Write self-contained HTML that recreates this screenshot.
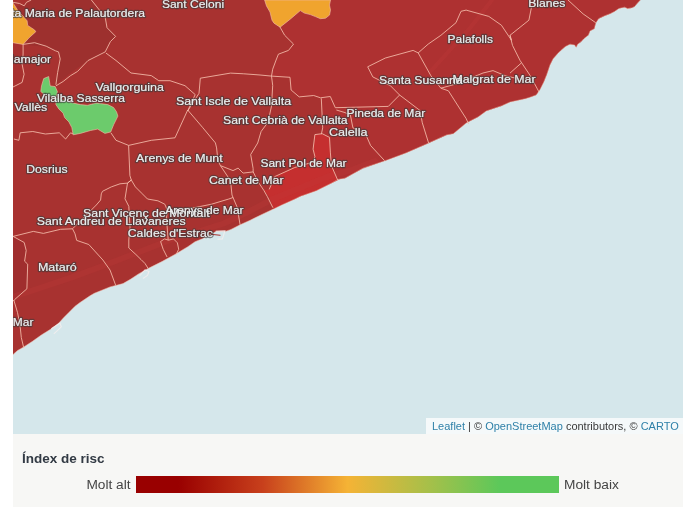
<!DOCTYPE html>
<html><head><meta charset="utf-8"><style>
html,body{margin:0;padding:0;background:#fff;width:694px;height:520px;overflow:hidden;position:relative}
.lb{font-family:"Liberation Sans",sans-serif;font-size:11.4px;fill:#e8e8e8;stroke:#3c3c3c;stroke-opacity:0.6;stroke-width:2.4px;stroke-linejoin:round}
.lf{font-family:"Liberation Sans",sans-serif;font-size:11.4px;fill:#ebebeb;stroke:#e8e8e8;stroke-width:0.1px;stroke-linejoin:round}
#attr{will-change:transform;position:absolute;left:425.5px;top:417.5px;width:257.5px;height:16.5px;background:rgba(255,255,255,0.75);font-family:"Liberation Sans",sans-serif;font-size:11px;color:#3a3a3a;line-height:17px;box-sizing:border-box;padding-left:6px;white-space:nowrap}
#attr a{color:#2f80a8;text-decoration:none}
#legend{will-change:transform;position:absolute;left:13px;top:434px;width:670px;height:73px;background:#f7f7f5;font-family:"Liberation Sans",sans-serif}
#lt{position:absolute;left:9px;top:16.5px;font-weight:bold;font-size:13.5px;color:#323a44}
#la{position:absolute;right:552.5px;top:43px;font-size:13.7px;color:#444}
#lbx{position:absolute;left:551px;top:43px;font-size:13.7px;color:#444}
#bar{position:absolute;left:123px;top:42px;width:423px;height:16.5px;background:linear-gradient(to right,#990000 0%,#990000 10%,#c8401c 30%,#f5b335 50%,#a3c04a 70%,#5cc85a 86%,#5cc85a 100%)}
</style></head><body>
<svg width="694" height="520" viewBox="0 0 694 520" style="position:absolute;left:0;top:0;will-change:transform">
<defs><clipPath id="c"><rect x="13" y="0" width="670" height="434"/></clipPath></defs>
<g clip-path="url(#c)">
<rect x="13" y="0" width="670" height="434" fill="#d5e7eb"/>
<polygon points="0.0,0.0 640.4,0.0 637.6,2.9 634.7,6.5 631.8,7.9 627.5,8.6 624.6,7.2 618.8,8.6 614.5,11.5 610.2,13.7 604.4,15.9 598.6,18.7 595.8,23.1 594.3,28.8 590.0,31.0 588.5,35.0 583.8,38.8 580.8,41.9 577.7,44.2 576.2,47.3 574.6,45.0 570.0,44.2 565.4,46.5 560.8,50.4 557.7,53.5 553.1,58.8 550.0,65.0 546.9,74.2 543.8,81.9 540.0,89.6 536.2,95.0 530.0,97.3 525.1,98.8 510.0,102.1 501.4,105.9 486.2,111.0 478.0,117.0 466.2,123.0 453.2,133.8 446.7,134.9 426.1,144.2 405.9,153.0 385.7,160.6 363.0,168.2 345.0,178.2 337.8,179.5 331.4,183.2 316.2,190.8 300.0,196.5 295.0,199.0 281.5,205.1 273.4,209.1 260.3,215.2 250.2,220.2 240.1,224.8 231.0,229.4 226.0,231.2 216.6,231.2 213.0,233.0 202.2,238.8 195.0,241.7 187.8,246.7 174.8,254.5 161.9,261.6 148.9,268.1 138.5,273.9 130.8,279.1 123.0,283.6 110.0,286.9 94.3,293.3 90.0,295.8 80.0,302.5 75.0,306.3 68.8,312.5 63.8,317.5 58.8,323.1 51.3,328.8 41.3,335.0 32.5,341.3 23.8,346.9 17.5,350.6 13.1,354.4 12.0,355.5 0.0,360.0" fill="#a83230"/>
<polygon points="330.5,0.0 640.4,0.0 637.6,2.9 634.7,6.5 631.8,7.9 627.5,8.6 624.6,7.2 618.8,8.6 614.5,11.5 610.2,13.7 604.4,15.9 598.6,18.7 595.8,23.1 594.3,28.8 590.0,31.0 588.5,35.0 583.8,38.8 580.8,41.9 577.7,44.2 576.2,47.3 574.6,45.0 570.0,44.2 565.4,46.5 560.8,50.4 557.7,53.5 553.1,58.8 550.0,65.0 546.9,74.2 543.8,81.9 540.0,89.6 536.2,95.0 530.0,97.3 525.1,98.8 510.0,102.1 501.4,105.9 486.2,111.0 478.0,117.0 466.2,123.0 453.2,133.8 446.7,134.9 426.1,144.2 405.9,153.0 385.7,160.6 363.0,168.2 345.0,178.2 337.8,179.5 331.4,165.7 330.4,152.9 329.5,137.4 322.2,133.7 322.7,127.8 320.5,97.8 313.7,95.5 299.2,96.9 291.1,90.0 290.0,77.3 271.5,76.1 272.7,69.2 276.1,60.0 278.4,54.2 288.5,50.4 293.5,44.1 284.7,35.3 279.7,26.5 290.2,19.2 300.3,10.6 304.3,13.1 310.3,14.6 315.4,16.6 320.4,18.7 325.5,18.2 329.5,15.1 330.5,10.1 329.5,5.0" fill="#ae3131"/>
<polygon points="30.8,0.0 91.4,0.0 105.2,17.3 107.0,27.7 115.6,36.4 110.4,41.6 105.2,51.9 87.9,60.6 70.6,72.7 55.9,84.8 57.6,72.7 60.2,58.9 58.5,51.9 44.6,46.8 23.1,44.4 28.8,38.1 35.8,31.7 34.6,30.0 27.7,25.4 27.1,20.8 23.1,16.2 18.5,11.5 15.6,6.9 24.7,3.5" fill="#9d302e"/>
<polygon points="13.0,236.4 24.2,242.5 26.2,250.5 24.6,261.2 27.7,264.2 26.9,288.8 14.6,299.6 13.0,301.2" fill="#a02e2e"/>
<polygon points="314.9,134.6 322.2,133.7 329.5,137.4 330.4,152.9 331.4,165.7 337.8,180.3 331.4,183.2 316.2,190.8 300.0,196.5 295.0,199.0 281.5,205.1 273.4,209.1 269.2,196.7 263.8,190.3 269.2,189.4 274.7,176.6 294.8,167.5 313.1,162.0 314.9,156.5 313.1,149.2" fill="#c52f2f"/>
<polygon points="13.0,2.9 15.6,6.9 18.5,11.5 23.1,16.2 27.1,20.8 27.7,25.4 34.6,30.0 35.8,31.7 28.8,38.1 23.1,44.4 13.0,42.7 0.0,42.7 0.0,2.9" fill="#f0a42e" stroke="#f4bcaa" stroke-opacity="0.6" stroke-width="1"/>
<polygon points="264.6,0.0 266.5,6.0 270.0,12.1 272.0,20.2 274.0,23.2 280.1,27.2 290.2,19.2 300.3,10.6 304.3,13.1 310.3,14.6 315.4,16.6 320.4,18.7 325.5,18.2 329.5,15.1 330.5,10.1 329.5,5.0 330.5,0.0" fill="#f0a42e" stroke="#f4bcaa" stroke-opacity="0.6" stroke-width="1"/>
<polygon points="48.7,76.5 50.2,85.9 55.2,86.6 57.4,91.6 55.9,98.8 55.9,104.6 58.8,108.9 63.1,113.2 64.6,117.6 68.9,121.9 71.8,127.6 73.2,134.8 80.4,133.4 90.5,130.5 97.7,129.1 104.9,133.4 110.7,132.0 113.6,124.8 117.9,116.1 116.5,111.8 113.6,107.5 107.8,104.6 96.3,103.1 87.6,105.3 80.4,104.6 73.2,103.1 44.4,94.5 40.8,91.6 41.5,85.9 43.7,78.6" fill="#6ccb6c" stroke="#f4bcaa" stroke-opacity="0.6" stroke-width="1"/>
<polyline points="13.0,297.0 40.0,288.0 71.8,277.4 100.0,267.0 130.6,255.3 174.7,238.2 200.0,231.0 223.7,223.5 250.0,211.0 272.7,199.0 300.0,188.0 326.6,177.0 353.0,169.6 375.0,161.0" fill="none" stroke="#c53c3a" stroke-opacity="0.22" stroke-width="6" stroke-linejoin="round" stroke-linecap="round"/>
<polyline points="430.0,72.0 450.0,50.0 470.0,28.0 492.0,0.0" fill="none" stroke="#c53c3a" stroke-opacity="0.25" stroke-width="4" stroke-linecap="round"/>
<polyline points="640.4,0.0 637.6,2.9 634.7,6.5 631.8,7.9 627.5,8.6 624.6,7.2 618.8,8.6 614.5,11.5 610.2,13.7 604.4,15.9 598.6,18.7 595.8,23.1 594.3,28.8 590.0,31.0 588.5,35.0 583.8,38.8 580.8,41.9 577.7,44.2 576.2,47.3 574.6,45.0 570.0,44.2 565.4,46.5 560.8,50.4 557.7,53.5 553.1,58.8 550.0,65.0 546.9,74.2 543.8,81.9 540.0,89.6 536.2,95.0 530.0,97.3 525.1,98.8 510.0,102.1 501.4,105.9 486.2,111.0 478.0,117.0 466.2,123.0 453.2,133.8 446.7,134.9 426.1,144.2 405.9,153.0 385.7,160.6 363.0,168.2 345.0,178.2 337.8,179.5 331.4,183.2 316.2,190.8 300.0,196.5 295.0,199.0 281.5,205.1 273.4,209.1 260.3,215.2 250.2,220.2 240.1,224.8 231.0,229.4 226.0,231.2 216.6,231.2 213.0,233.0 202.2,238.8 195.0,241.7 187.8,246.7 174.8,254.5 161.9,261.6 148.9,268.1 138.5,273.9 130.8,279.1 123.0,283.6 110.0,286.9 94.3,293.3 90.0,295.8 80.0,302.5 75.0,306.3 68.8,312.5 63.8,317.5 58.8,323.1 51.3,328.8 41.3,335.0 32.5,341.3 23.8,346.9 17.5,350.6 13.1,354.4 12.0,355.5" fill="none" stroke="#f4bcaa" stroke-opacity="0.5" stroke-width="1"/>
<polyline points="215.6,231.3 224.9,230.9 222.4,238.9 217.5,239.2" fill="none" stroke="#f3eeee" stroke-opacity="0.85" stroke-width="1.1"/>
<polyline points="139.5,276.0 145.0,270.0 149.0,271.5 147.5,275.5 143.0,278.5" fill="none" stroke="#f3eeee" stroke-opacity="0.85" stroke-width="1.1"/>
<polyline points="51.3,328.8 60.0,323.1 61.3,326.9 53.8,333.8" fill="none" stroke="#f3eeee" stroke-opacity="0.85" stroke-width="1.1"/>
<polyline points="211.0,234.3 220.5,235.3" fill="none" stroke="#a8302e" stroke-width="1"/>
<polyline points="13.0,2.3 19.6,3.5 24.2,5.8 26.5,2.3 31.2,0.0" fill="none" stroke="#f4bcaa" stroke-opacity="0.85" stroke-width="1"/>
<polyline points="23.1,44.4 34.6,42.7 46.2,46.2 55.4,50.8 58.5,51.9 60.2,58.9 57.6,72.7 55.9,84.8" fill="none" stroke="#f4bcaa" stroke-opacity="0.85" stroke-width="1"/>
<polyline points="23.1,44.4 23.1,54.1 22.1,64.2 24.1,74.3 22.1,82.4 13.0,87.0" fill="none" stroke="#f4bcaa" stroke-opacity="0.85" stroke-width="1"/>
<polyline points="55.9,85.9 63.1,81.5 70.3,75.8 77.6,71.4 87.9,60.6 105.2,51.9 110.4,41.6 115.6,36.4 107.0,27.7 105.2,17.3 91.4,0.0" fill="none" stroke="#f4bcaa" stroke-opacity="0.85" stroke-width="1"/>
<polyline points="13.9,139.0 18.9,140.3 20.2,132.8 32.8,131.5 45.4,134.0 59.3,132.8 65.6,139.0 70.6,132.8 73.1,134.0" fill="none" stroke="#f4bcaa" stroke-opacity="0.85" stroke-width="1"/>
<polyline points="110.9,132.8 116.0,140.3 128.6,145.4 151.3,140.3 175.0,137.8 187.7,110.0" fill="none" stroke="#f4bcaa" stroke-opacity="0.85" stroke-width="1"/>
<polyline points="128.6,145.4 129.9,175.6 131.3,180.0 127.5,183.1 120.0,183.8 111.3,186.9 102.5,191.3 101.3,193.8 100.6,200.0 96.3,205.0 91.3,210.0 85.0,216.3 78.8,222.5 72.5,228.8 60.5,229.3" fill="none" stroke="#f4bcaa" stroke-opacity="0.85" stroke-width="1"/>
<polyline points="131.3,180.0 127.5,183.1 125.0,198.8 128.8,206.3 130.0,227.5 128.8,240.0 128.8,248.0 135.9,254.5 141.1,259.6 145.0,263.5 148.3,268.7" fill="none" stroke="#f4bcaa" stroke-opacity="0.85" stroke-width="1"/>
<polyline points="131.3,180.0 135.4,186.9 142.3,193.8 147.5,199.0 157.9,200.8 164.8,204.2 167.4,210.3 166.5,218.0 167.4,230.1 168.2,240.0" fill="none" stroke="#f4bcaa" stroke-opacity="0.85" stroke-width="1"/>
<polyline points="13.1,236.4 33.3,231.4 43.4,233.4 60.5,229.3" fill="none" stroke="#f4bcaa" stroke-opacity="0.85" stroke-width="1"/>
<polyline points="72.5,228.8 75.0,233.8 76.7,240.4 88.8,244.5 102.9,260.0 110.0,270.0 115.8,285.6" fill="none" stroke="#f4bcaa" stroke-opacity="0.85" stroke-width="1"/>
<polyline points="13.1,236.4 24.2,242.5 26.2,250.5 24.6,261.2 27.7,264.2 26.9,288.8 14.6,299.6 13.0,301.2" fill="none" stroke="#f4bcaa" stroke-opacity="0.85" stroke-width="1"/>
<polyline points="13.8,300.0 17.5,312.5 20.0,325.0 21.3,337.5 23.8,348.1" fill="none" stroke="#f4bcaa" stroke-opacity="0.85" stroke-width="1"/>
<polyline points="105.9,53.0 116.0,60.5 131.0,73.0 151.3,75.6 158.8,80.7 170.0,80.7" fill="none" stroke="#f4bcaa" stroke-opacity="0.85" stroke-width="1"/>
<polyline points="160.6,241.5 164.5,238.9 168.4,240.2 173.5,238.9 177.4,242.8 178.7,249.3 176.1,254.5" fill="none" stroke="#f4bcaa" stroke-opacity="0.85" stroke-width="1"/>
<polyline points="160.6,241.5 163.2,249.3 167.1,257.0" fill="none" stroke="#f4bcaa" stroke-opacity="0.85" stroke-width="1"/>
<polyline points="167.4,210.3 176.9,209.4 194.2,207.7 211.5,204.2 228.8,199.0 233.0,197.5" fill="none" stroke="#f4bcaa" stroke-opacity="0.85" stroke-width="1"/>
<polyline points="187.7,110.0 202.8,127.7 215.4,142.9 216.6,147.9 217.9,160.5 220.4,165.6 230.5,180.7 232.0,195.0 234.1,200.0 237.1,207.1 240.1,224.8" fill="none" stroke="#f4bcaa" stroke-opacity="0.85" stroke-width="1"/>
<polyline points="220.4,165.6 233.0,170.6 238.1,168.1 243.1,173.1 253.2,171.9 258.3,182.1 263.8,190.3 267.4,196.7 272.9,207.7" fill="none" stroke="#f4bcaa" stroke-opacity="0.85" stroke-width="1"/>
<polyline points="253.2,171.9 253.1,168.4 250.7,154.5 257.7,143.0 261.1,131.5 268.0,122.2 271.5,106.1 272.7,85.4 271.5,76.1 272.7,69.2 276.1,60.0 278.4,54.2 288.5,50.4 293.5,44.1 284.7,35.3 279.7,26.5" fill="none" stroke="#f4bcaa" stroke-opacity="0.85" stroke-width="1"/>
<polyline points="170.0,80.7 185.0,85.7 195.2,94.6 187.7,110.9 187.7,110.0" fill="none" stroke="#f4bcaa" stroke-opacity="0.85" stroke-width="1"/>
<polyline points="200.3,78.2 230.5,73.1 243.8,73.8 260.0,75.0 271.5,76.1 290.0,77.3 291.1,90.0 299.2,96.9 313.7,95.5" fill="none" stroke="#f4bcaa" stroke-opacity="0.85" stroke-width="1"/>
<polyline points="200.3,78.2 199.0,93.3 187.7,110.9" fill="none" stroke="#f4bcaa" stroke-opacity="0.85" stroke-width="1"/>
<polyline points="321.3,98.3 322.7,127.8 321.4,134.1" fill="none" stroke="#f4bcaa" stroke-opacity="0.85" stroke-width="1"/>
<polyline points="313.7,95.5 320.5,97.8 330.3,96.5 335.3,107.7 388.3,106.4 399.6,95.0" fill="none" stroke="#f4bcaa" stroke-opacity="0.85" stroke-width="1"/>
<polyline points="350.4,115.2 352.9,127.8 365.6,134.1 370.6,145.5 384.5,160.6" fill="none" stroke="#f4bcaa" stroke-opacity="0.85" stroke-width="1"/>
<polyline points="336.4,110.0 345.0,112.6 350.4,115.2" fill="none" stroke="#f4bcaa" stroke-opacity="0.85" stroke-width="1"/>
<polyline points="367.7,66.8 385.4,58.0 413.1,50.4 418.2,52.9 428.2,44.1 440.9,35.3 456.0,22.7 461.0,11.3 466.1,10.1 488.8,16.4 501.4,25.2 511.5,40.3 510.0,35.3 528.9,20.2 531.4,7.6" fill="none" stroke="#f4bcaa" stroke-opacity="0.85" stroke-width="1"/>
<polyline points="367.7,66.8 372.8,76.9 390.4,85.7 399.6,95.0 420.0,110.5 422.3,122.8 428.6,143.0" fill="none" stroke="#f4bcaa" stroke-opacity="0.85" stroke-width="1"/>
<polyline points="418.2,52.9 430.8,75.6 440.9,88.2 448.4,90.8 466.1,118.5 468.6,124.0" fill="none" stroke="#f4bcaa" stroke-opacity="0.85" stroke-width="1"/>
<polyline points="440.9,88.2 456.0,84.0 483.0,73.0 493.0,70.6 506.0,76.0 515.0,78.0" fill="none" stroke="#f4bcaa" stroke-opacity="0.85" stroke-width="1"/>
<polyline points="510.0,35.3 512.5,45.4 520.1,60.5 530.2,75.6 539.0,92.0" fill="none" stroke="#f4bcaa" stroke-opacity="0.85" stroke-width="1"/>
<polyline points="510.0,73.1 521.3,63.0" fill="none" stroke="#f4bcaa" stroke-opacity="0.85" stroke-width="1"/>
<polyline points="568.0,0.0 583.1,13.9 595.7,22.7" fill="none" stroke="#f4bcaa" stroke-opacity="0.85" stroke-width="1"/>
<polyline points="314.9,134.6 313.1,149.2 314.9,156.5 313.1,162.0" fill="none" stroke="#f4bcaa" stroke-opacity="0.85" stroke-width="1"/>
<polyline points="314.9,134.6 322.2,133.7 329.5,137.4 330.4,152.9 331.4,165.7 337.8,180.3" fill="none" stroke="#f4bcaa" stroke-opacity="0.85" stroke-width="1"/>
<polyline points="269.2,189.4 274.7,176.6 294.8,167.5 313.1,162.0" fill="none" stroke="#f4bcaa" stroke-opacity="0.85" stroke-width="1"/>
<text x="-10.5" y="17.0" textLength="155.5" lengthAdjust="spacingAndGlyphs" class="lb">Santa Maria de Palautordera</text>
<text x="161.9" y="8.3" textLength="62.2" lengthAdjust="spacingAndGlyphs" class="lb">Sant Celoni</text>
<text x="528.2" y="7.1" textLength="37.2" lengthAdjust="spacingAndGlyphs" class="lb">Blanes</text>
<text x="447.6" y="42.6" textLength="45.3" lengthAdjust="spacingAndGlyphs" class="lb">Palafolls</text>
<text x="379.0" y="83.6" textLength="83.6" lengthAdjust="spacingAndGlyphs" class="lb">Santa Susanna</text>
<text x="452.4" y="83.2" textLength="83.2" lengthAdjust="spacingAndGlyphs" class="lb">Malgrat de Mar</text>
<text x="-74.4" y="62.9" textLength="125.6" lengthAdjust="spacingAndGlyphs" class="lb">Sant Pere de Vilamajor</text>
<text x="95.4" y="90.6" textLength="68.6" lengthAdjust="spacingAndGlyphs" class="lb">Vallgorguina</text>
<text x="37.0" y="102.3" textLength="88.1" lengthAdjust="spacingAndGlyphs" class="lb">Vilalba Sasserra</text>
<text x="14.4" y="110.8" textLength="32.9" lengthAdjust="spacingAndGlyphs" class="lb">Vallès</text>
<text x="175.9" y="104.7" textLength="115.3" lengthAdjust="spacingAndGlyphs" class="lb">Sant Iscle de Vallalta</text>
<text x="223.1" y="124.1" textLength="124.6" lengthAdjust="spacingAndGlyphs" class="lb">Sant Cebrià de Vallalta</text>
<text x="346.4" y="116.9" textLength="78.8" lengthAdjust="spacingAndGlyphs" class="lb">Pineda de Mar</text>
<text x="328.9" y="136.1" textLength="38.6" lengthAdjust="spacingAndGlyphs" class="lb">Calella</text>
<text x="26.3" y="172.8" textLength="41.3" lengthAdjust="spacingAndGlyphs" class="lb">Dosrius</text>
<text x="136.0" y="162.0" textLength="86.7" lengthAdjust="spacingAndGlyphs" class="lb">Arenys de Munt</text>
<text x="260.4" y="167.1" textLength="86.2" lengthAdjust="spacingAndGlyphs" class="lb">Sant Pol de Mar</text>
<text x="208.9" y="183.7" textLength="74.7" lengthAdjust="spacingAndGlyphs" class="lb">Canet de Mar</text>
<text x="165.3" y="213.5" textLength="78.3" lengthAdjust="spacingAndGlyphs" class="lb">Arenys de Mar</text>
<text x="83.1" y="216.8" textLength="126.5" lengthAdjust="spacingAndGlyphs" class="lb">Sant Vicenç de Montalt</text>
<text x="36.7" y="225.1" textLength="149.0" lengthAdjust="spacingAndGlyphs" class="lb">Sant Andreu de Llavaneres</text>
<text x="127.8" y="236.7" textLength="85.1" lengthAdjust="spacingAndGlyphs" class="lb">Caldes d'Estrac</text>
<text x="37.9" y="271.0" textLength="38.9" lengthAdjust="spacingAndGlyphs" class="lb">Mataró</text>
<text x="12.8" y="325.6" textLength="20.6" lengthAdjust="spacingAndGlyphs" class="lb">Mar</text>
<text x="-10.5" y="17.0" textLength="155.5" lengthAdjust="spacingAndGlyphs" class="lf">Santa Maria de Palautordera</text>
<text x="161.9" y="8.3" textLength="62.2" lengthAdjust="spacingAndGlyphs" class="lf">Sant Celoni</text>
<text x="528.2" y="7.1" textLength="37.2" lengthAdjust="spacingAndGlyphs" class="lf">Blanes</text>
<text x="447.6" y="42.6" textLength="45.3" lengthAdjust="spacingAndGlyphs" class="lf">Palafolls</text>
<text x="379.0" y="83.6" textLength="83.6" lengthAdjust="spacingAndGlyphs" class="lf">Santa Susanna</text>
<text x="452.4" y="83.2" textLength="83.2" lengthAdjust="spacingAndGlyphs" class="lf">Malgrat de Mar</text>
<text x="-74.4" y="62.9" textLength="125.6" lengthAdjust="spacingAndGlyphs" class="lf">Sant Pere de Vilamajor</text>
<text x="95.4" y="90.6" textLength="68.6" lengthAdjust="spacingAndGlyphs" class="lf">Vallgorguina</text>
<text x="37.0" y="102.3" textLength="88.1" lengthAdjust="spacingAndGlyphs" class="lf">Vilalba Sasserra</text>
<text x="14.4" y="110.8" textLength="32.9" lengthAdjust="spacingAndGlyphs" class="lf">Vallès</text>
<text x="175.9" y="104.7" textLength="115.3" lengthAdjust="spacingAndGlyphs" class="lf">Sant Iscle de Vallalta</text>
<text x="223.1" y="124.1" textLength="124.6" lengthAdjust="spacingAndGlyphs" class="lf">Sant Cebrià de Vallalta</text>
<text x="346.4" y="116.9" textLength="78.8" lengthAdjust="spacingAndGlyphs" class="lf">Pineda de Mar</text>
<text x="328.9" y="136.1" textLength="38.6" lengthAdjust="spacingAndGlyphs" class="lf">Calella</text>
<text x="26.3" y="172.8" textLength="41.3" lengthAdjust="spacingAndGlyphs" class="lf">Dosrius</text>
<text x="136.0" y="162.0" textLength="86.7" lengthAdjust="spacingAndGlyphs" class="lf">Arenys de Munt</text>
<text x="260.4" y="167.1" textLength="86.2" lengthAdjust="spacingAndGlyphs" class="lf">Sant Pol de Mar</text>
<text x="208.9" y="183.7" textLength="74.7" lengthAdjust="spacingAndGlyphs" class="lf">Canet de Mar</text>
<text x="165.3" y="213.5" textLength="78.3" lengthAdjust="spacingAndGlyphs" class="lf">Arenys de Mar</text>
<text x="83.1" y="216.8" textLength="126.5" lengthAdjust="spacingAndGlyphs" class="lf">Sant Vicenç de Montalt</text>
<text x="36.7" y="225.1" textLength="149.0" lengthAdjust="spacingAndGlyphs" class="lf">Sant Andreu de Llavaneres</text>
<text x="127.8" y="236.7" textLength="85.1" lengthAdjust="spacingAndGlyphs" class="lf">Caldes d'Estrac</text>
<text x="37.9" y="271.0" textLength="38.9" lengthAdjust="spacingAndGlyphs" class="lf">Mataró</text>
<text x="12.8" y="325.6" textLength="20.6" lengthAdjust="spacingAndGlyphs" class="lf">Mar</text>
</g>
</svg>
<div id="attr"><a>Leaflet</a> | © <a>OpenStreetMap</a> contributors, © <a>CARTO</a></div>
<div id="legend"><div id="lt">Índex de risc</div><div id="la">Molt alt</div><div id="bar"></div><div id="lbx">Molt baix</div></div>
</body></html>
